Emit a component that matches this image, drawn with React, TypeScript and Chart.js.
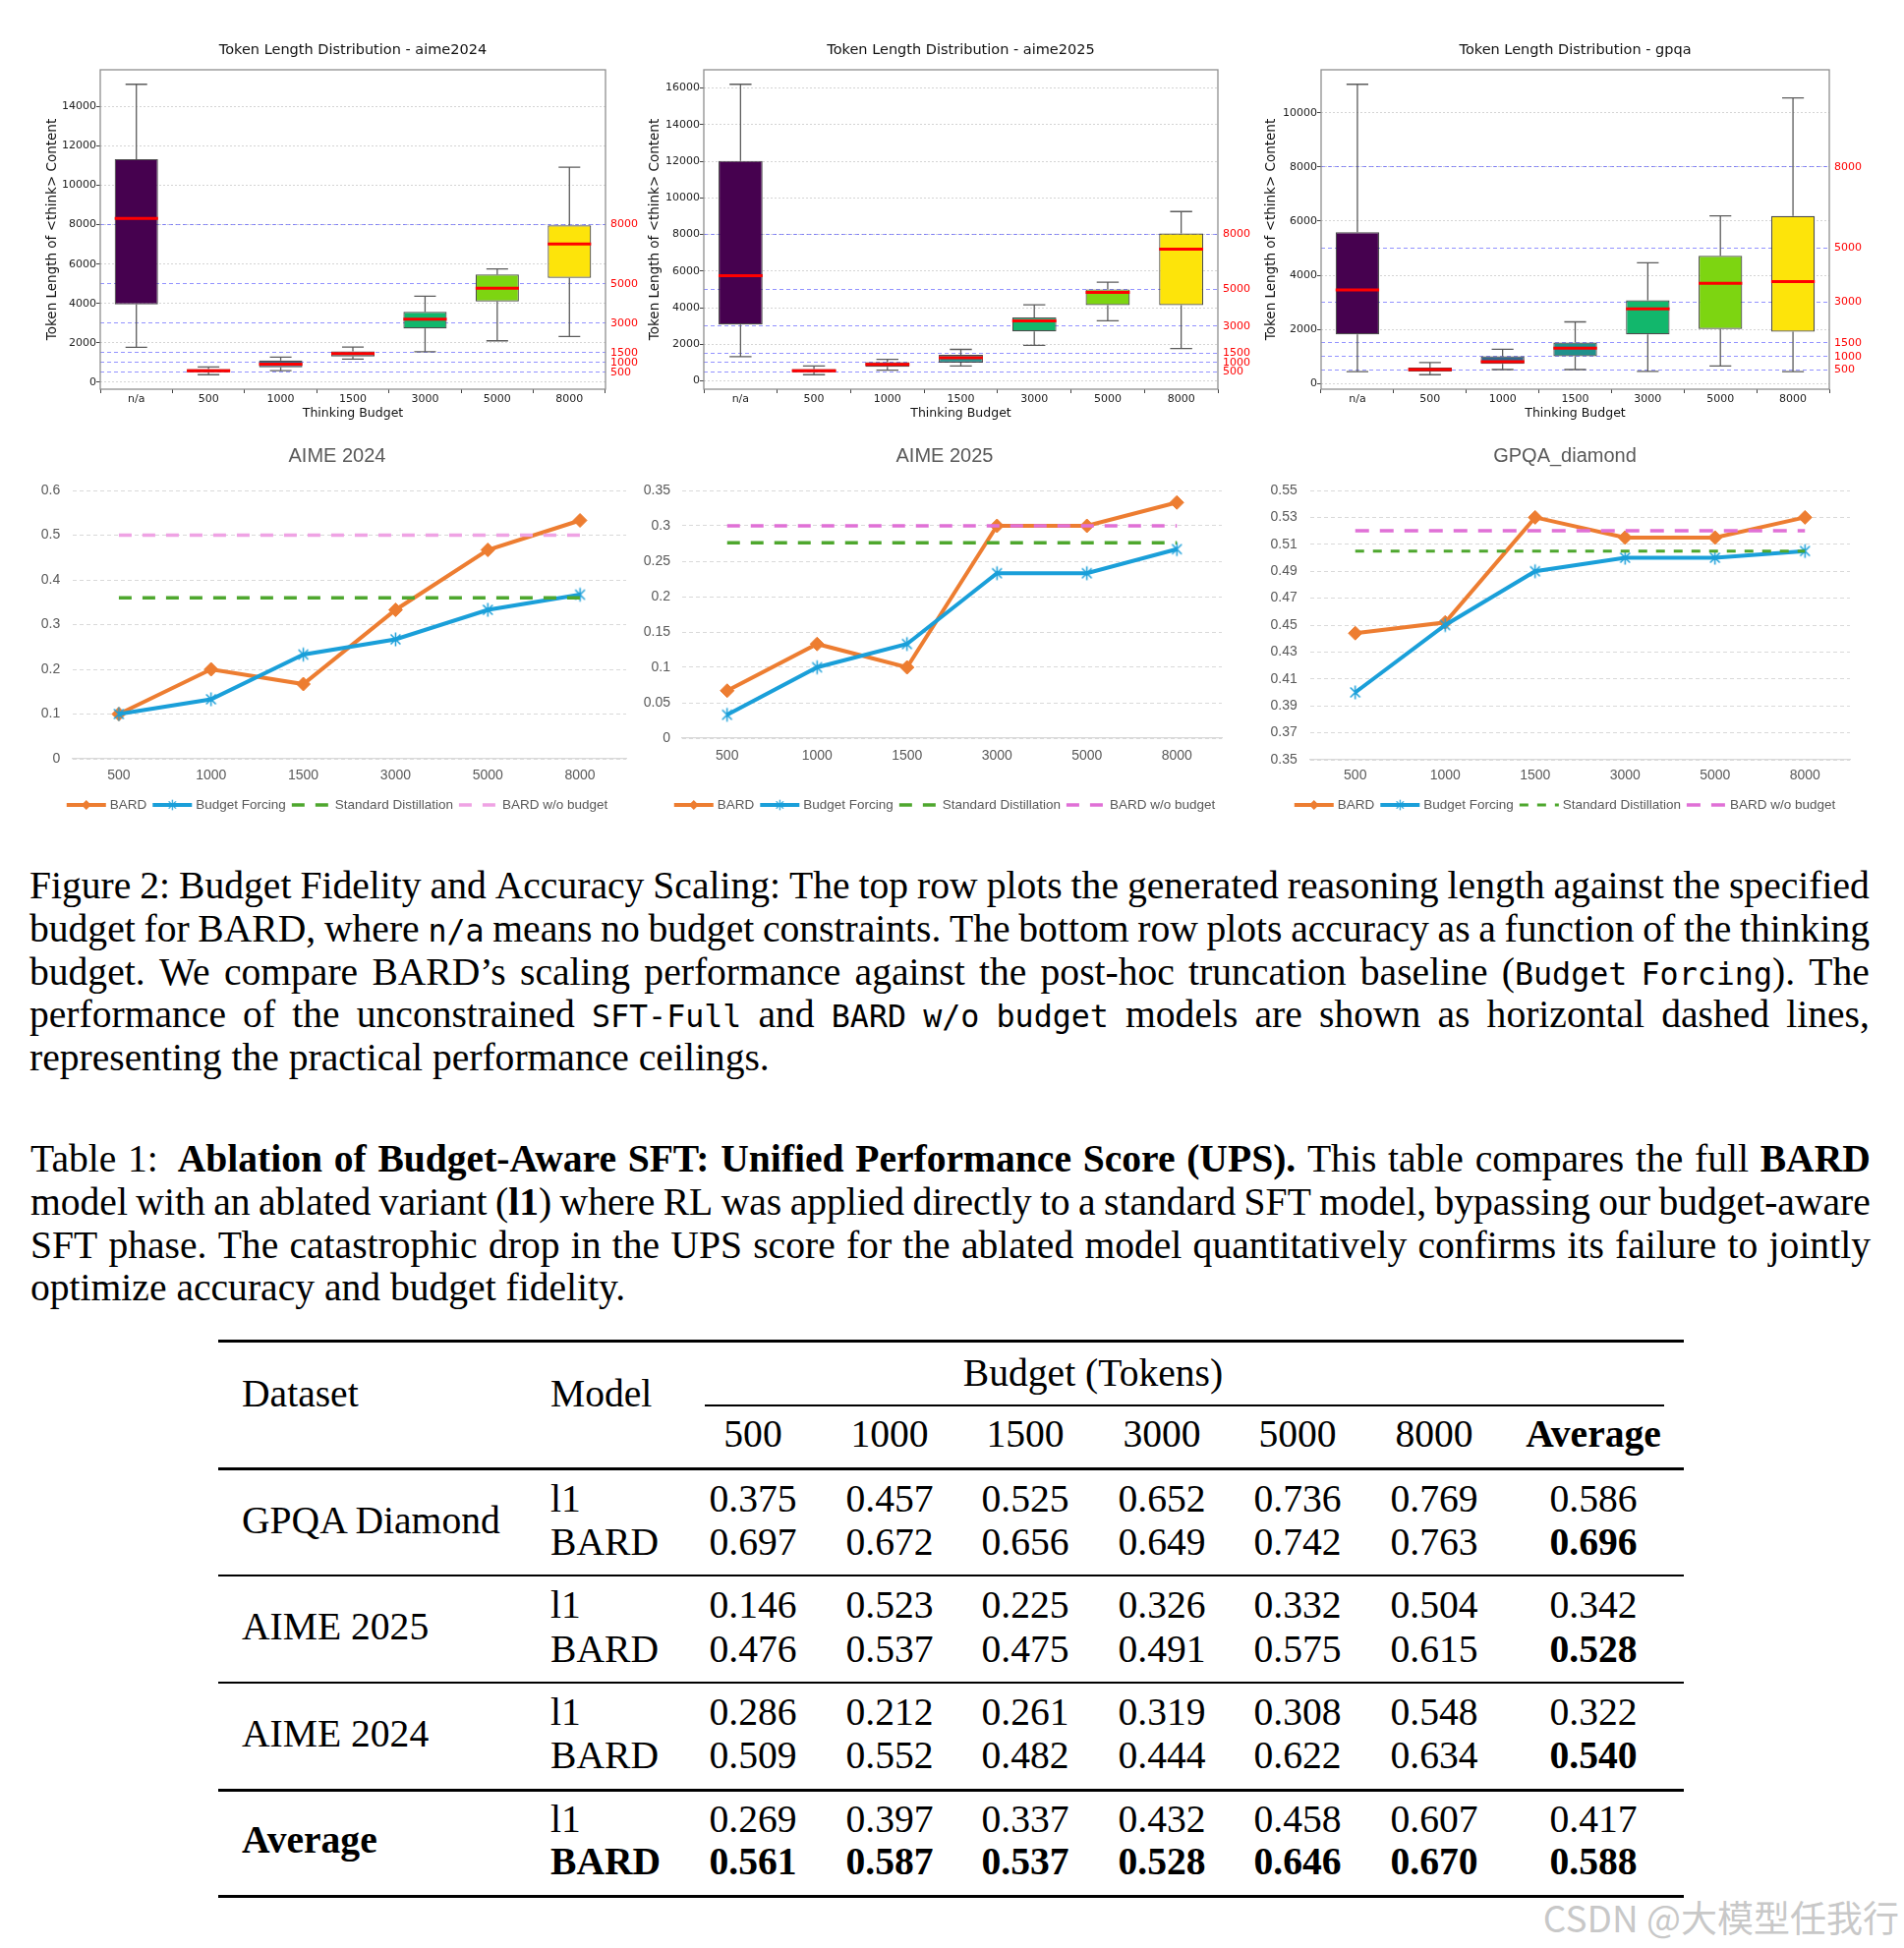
import React, { useEffect, useRef } from 'react';
import { Chart, registerables } from 'chart.js';

Chart.register(...registerables);

// ---------------- DATA: token length box plots ----------------
const BOX_CATEGORIES = ['n/a', '500', '1000', '1500', '3000', '5000', '8000'];
const BUDGET_REFERENCE = [500, 1000, 1500, 3000, 5000, 8000];
const BOX_COLORS = ['#46014f', '#443983', '#31688e', '#21918c', '#12b76c', '#7dd511', '#fde40a'];

const AIME24_WHISKER_LOW = [1770, 380, 580, 1170, 1550, 2100, 2320];
const AIME24_Q1 = [3950, 500, 750, 1300, 2730, 4100, 5300];
const AIME24_MEDIAN = [8320, 580, 920, 1450, 3200, 4770, 7020];
const AIME24_Q3 = [11330, 670, 1100, 1570, 3570, 5470, 7970];
const AIME24_WHISKER_HIGH = [15130, 770, 1270, 1780, 4370, 5750, 10920];
const AIME24_YTICKS = [0, 2000, 4000, 6000, 8000, 10000, 12000, 14000];

const AIME25_WHISKER_LOW = [1330, 340, 590, 820, 1940, 3280, 1770];
const AIME25_Q1 = [3080, 470, 770, 1000, 2700, 4140, 4140];
const AIME25_MEDIAN = [5750, 555, 900, 1270, 3280, 4840, 7200];
const AIME25_Q3 = [12020, 645, 1020, 1420, 3460, 5000, 8050];
const AIME25_WHISKER_HIGH = [16200, 810, 1180, 1720, 4160, 5390, 9250];
const AIME25_YTICKS = [0, 2000, 4000, 6000, 8000, 10000, 12000, 14000, 16000];

const GPQA_WHISKER_LOW = [440, 330, 520, 520, 450, 650, 440];
const GPQA_Q1 = [1820, 450, 730, 1010, 1820, 2020, 1920];
const GPQA_MEDIAN = [3460, 520, 810, 1310, 2760, 3700, 3770];
const GPQA_Q3 = [5590, 590, 1010, 1520, 3080, 4720, 6190];
const GPQA_WHISKER_HIGH = [11050, 780, 1270, 2280, 4460, 6190, 10550];
const GPQA_YTICKS = [0, 2000, 4000, 6000, 8000, 10000];

// ---------------- DATA: accuracy line charts ----------------
const ACC_BUDGETS = ['500', '1000', '1500', '3000', '5000', '8000'];
const SERIES_NAMES = ['BARD', 'Budget Forcing', 'Standard Distillation', 'BARD w/o budget'];

const AIME24_BARD = [0.1, 0.2, 0.167, 0.333, 0.467, 0.533];
const AIME24_BF = [0.1, 0.133, 0.233, 0.267, 0.333, 0.367];
const AIME24_SD = [0.36, 0.36, 0.36, 0.36, 0.36, 0.36];
const AIME24_WO = [0.5, 0.5, 0.5, 0.5, 0.5, 0.5];
const AIME24_ACC_TICKS = [0, 0.1, 0.2, 0.3, 0.4, 0.5, 0.6];

const AIME25_BARD = [0.067, 0.133, 0.1, 0.3, 0.3, 0.333];
const AIME25_BF = [0.033, 0.1, 0.133, 0.233, 0.233, 0.267];
const AIME25_SD = [0.276, 0.276, 0.276, 0.276, 0.276, 0.276];
const AIME25_WO = [0.3, 0.3, 0.3, 0.3, 0.3, 0.3];
const AIME25_ACC_TICKS = [0, 0.05, 0.1, 0.15, 0.2, 0.25, 0.3, 0.35];

const GPQA_BARD = [0.444, 0.452, 0.53, 0.515, 0.515, 0.53];
const GPQA_BF = [0.4, 0.45, 0.49, 0.5, 0.5, 0.505];
const GPQA_SD = [0.505, 0.505, 0.505, 0.505, 0.505, 0.505];
const GPQA_WO = [0.52, 0.52, 0.52, 0.52, 0.52, 0.52];
const GPQA_ACC_TICKS = [0.35, 0.37, 0.39, 0.41, 0.43, 0.45, 0.47, 0.49, 0.51, 0.53, 0.55];

// ---------------- DATA: table ----------------
const TABLE_COL_HEADERS = ['500', '1000', '1500', '3000', '5000', '8000', 'Average'];
const TABLE_GROUPS = ['GPQA Diamond', 'AIME 2025', 'AIME 2024', 'Average'];
const TABLE_MODELS = ['l1', 'BARD'];
const UPS_GPQA_L1 = [0.375, 0.457, 0.525, 0.652, 0.736, 0.769, 0.586];
const UPS_GPQA_BARD = [0.697, 0.672, 0.656, 0.649, 0.742, 0.763, 0.696];
const UPS_AIME25_L1 = [0.146, 0.523, 0.225, 0.326, 0.332, 0.504, 0.342];
const UPS_AIME25_BARD = [0.476, 0.537, 0.475, 0.491, 0.575, 0.615, 0.528];
const UPS_AIME24_L1 = [0.286, 0.212, 0.261, 0.319, 0.308, 0.548, 0.322];
const UPS_AIME24_BARD = [0.509, 0.552, 0.482, 0.444, 0.622, 0.634, 0.54];
const UPS_AVG_L1 = [0.269, 0.397, 0.337, 0.432, 0.458, 0.607, 0.417];
const UPS_AVG_BARD = [0.561, 0.587, 0.537, 0.528, 0.646, 0.67, 0.588];

// ---------------- fonts / colours ----------------
const MPL_FONT = '"DejaVu Sans", sans-serif';
const EXCEL_FONT = '"Liberation Sans", Arial, sans-serif';
const SERIF = '"Liberation Serif", "Times New Roman", serif';
const MONO = '"DejaVu Sans Mono", monospace';
const ORANGE = '#ed7d31';
const BLUE = '#1a9fd9';
const GREEN = '#4ea72e';
const EXCEL_TEXT = '#595959';

// ---------------- plugins ----------------
const titlePlugin = {
  id: 'customTitle',
  afterDraw(chart: any, _args: any, opts: any) {
    if (!opts || !opts.text) return;
    const { ctx, chartArea } = chart;
    ctx.save();
    ctx.font = `normal ${opts.size}px ${opts.family}`;
    ctx.fillStyle = opts.color;
    ctx.textAlign = 'center';
    ctx.textBaseline = 'middle';
    const x = opts.center === 'area' ? (chartArea.left + chartArea.right) / 2 : chart.width / 2;
    ctx.fillText(opts.text, x, chartArea.top - opts.offset);
    ctx.restore();
  },
};

const framePlugin = {
  id: 'frame',
  afterDraw(chart: any) {
    const { ctx, chartArea } = chart;
    ctx.save();
    ctx.strokeStyle = '#8f8f8f';
    ctx.lineWidth = 1.3;
    ctx.strokeRect(chartArea.left, chartArea.top, chartArea.right - chartArea.left, chartArea.bottom - chartArea.top);
    ctx.restore();
  },
};

function makeStar(color: string, r: number, lw: number) {
  const size = Math.ceil(2 * r + 2 * lw);
  const c = document.createElement('canvas');
  c.width = size;
  c.height = size;
  const g = c.getContext('2d')!;
  g.strokeStyle = color;
  g.lineWidth = lw;
  const cx = size / 2;
  const cy = size / 2;
  const d = r * Math.SQRT1_2;
  g.beginPath();
  g.moveTo(cx - d, cy - d);
  g.lineTo(cx + d, cy + d);
  g.moveTo(cx + d, cy - d);
  g.lineTo(cx - d, cy + d);
  g.moveTo(cx, cy - r);
  g.lineTo(cx, cy + r);
  g.stroke();
  return c;
}

const lineLegendPlugin = {
  id: 'lineLegend',
  afterDraw(chart: any, _args: any, opts: any) {
    const ctx = chart.ctx;
    ctx.save();
    ctx.font = `normal ${opts.size}px ${opts.family}`;
    const sample = 40;
    const gapText = 4;
    const gapItem = 6;
    const items = chart.data.datasets.map((ds: any) => ({ ds, w: ctx.measureText(ds.label).width }));
    const total = items.reduce((s: number, it: any) => s + sample + gapText + it.w + gapItem, 0) - gapItem;
    let x = chart.width / 2 - total / 2;
    const y = opts.y;
    for (const it of items) {
      const ds = it.ds;
      ctx.save();
      ctx.strokeStyle = ds.borderColor;
      ctx.lineWidth = ds.borderWidth;
      ctx.setLineDash(ds.borderDash || []);
      ctx.beginPath();
      ctx.moveTo(x, y);
      ctx.lineTo(x + sample, y);
      ctx.stroke();
      ctx.restore();
      const mx = x + sample / 2;
      if (ds.pointStyle === 'rectRot') {
        const r = 5;
        ctx.fillStyle = ds.borderColor;
        ctx.beginPath();
        ctx.moveTo(mx - r, y);
        ctx.lineTo(mx, y - r);
        ctx.lineTo(mx + r, y);
        ctx.lineTo(mx, y + r);
        ctx.closePath();
        ctx.fill();
      } else if (ds.pointStyle && typeof ds.pointStyle !== 'string') {
        const img = ds.pointStyle;
        const s = img.width * 0.75;
        ctx.drawImage(img, mx - s / 2, y - s / 2, s, s);
      }
      ctx.fillStyle = EXCEL_TEXT;
      ctx.textAlign = 'left';
      ctx.textBaseline = 'middle';
      ctx.fillText(ds.label, x + sample + gapText, y);
      x += sample + gapText + it.w + gapItem;
    }
    ctx.restore();
  },
};

// ---------------- box chart ----------------
type BoxProps = {
  title: string;
  low: number[];
  q1: number[];
  median: number[];
  q3: number[];
  high: number[];
  yTicks: number[];
  left: number;
  top: number;
  width: number;
  height: number;
  yW: number;
  y2W: number;
  xH: number;
  padTop: number;
};

function BoxChart(p: BoxProps) {
  const ref = useRef<HTMLCanvasElement>(null);
  useEffect(() => {
    const all = [...p.low, ...p.high];
    const lo = Math.min(...all);
    const hi = Math.max(...all);
    const margin = (hi - lo) * 0.05;
    const yMin = lo - margin;
    const yMax = hi + margin;
    const boxPlugin = {
      id: 'boxWhiskers',
      beforeDatasetsDraw(chart: any) {
        const meta = chart.getDatasetMeta(0);
        const ys = chart.scales.y;
        const ctx = chart.ctx;
        ctx.save();
        ctx.strokeStyle = '#5c5c5c';
        ctx.lineWidth = 1.3;
        meta.data.forEach((bar: any, i: number) => {
          const { x, width } = bar.getProps(['x', 'width'], true);
          const yl = ys.getPixelForValue(p.low[i]);
          const yq1 = ys.getPixelForValue(p.q1[i]);
          const yq3 = ys.getPixelForValue(p.q3[i]);
          const yh = ys.getPixelForValue(p.high[i]);
          const cw = width / 4;
          ctx.beginPath();
          ctx.moveTo(x, yl);
          ctx.lineTo(x, yq1);
          ctx.moveTo(x, yq3);
          ctx.lineTo(x, yh);
          ctx.moveTo(x - cw, yl);
          ctx.lineTo(x + cw, yl);
          ctx.moveTo(x - cw, yh);
          ctx.lineTo(x + cw, yh);
          ctx.stroke();
        });
        ctx.restore();
      },
      afterDatasetsDraw(chart: any) {
        const meta = chart.getDatasetMeta(0);
        const ys = chart.scales.y;
        const ctx = chart.ctx;
        ctx.save();
        ctx.strokeStyle = '#ff0000';
        ctx.lineWidth = 3;
        meta.data.forEach((bar: any, i: number) => {
          const { x, width } = bar.getProps(['x', 'width'], true);
          const ym = ys.getPixelForValue(p.median[i]);
          ctx.beginPath();
          ctx.moveTo(x - width / 2, ym);
          ctx.lineTo(x + width / 2, ym);
          ctx.stroke();
        });
        ctx.restore();
      },
    };
    const chart = new Chart(ref.current!, {
      type: 'bar',
      data: {
        labels: BOX_CATEGORIES,
        datasets: [
          {
            data: p.q1.map((v, i) => [v, p.q3[i]]) as any,
            backgroundColor: BOX_COLORS,
            borderColor: 'rgba(45,45,45,0.85)',
            borderWidth: 1.2,
            borderSkipped: false,
            barPercentage: 0.6,
            categoryPercentage: 1,
          },
        ],
      },
      options: {
        animation: false,
        responsive: false,
        maintainAspectRatio: false,
        events: [],
        layout: { padding: { top: p.padTop, left: 0, right: 0, bottom: 0 } },
        plugins: {
          legend: { display: false },
          tooltip: { enabled: false },
          customTitle: { text: p.title, size: 14.5, family: MPL_FONT, color: '#111', center: 'area', offset: 20 },
        } as any,
        scales: {
          x: {
            type: 'category',
            offset: true,
            grid: { display: true, drawOnChartArea: false, drawTicks: true, tickLength: 4, tickColor: '#444', color: '#444' },
            border: { display: false },
            ticks: { color: '#222', font: { family: MPL_FONT, size: 11 }, padding: 0, maxRotation: 0, autoSkip: false },
            title: { display: true, text: 'Thinking Budget', color: '#111', font: { family: MPL_FONT, size: 12.5 }, padding: { top: 0, bottom: 4 } },
            afterFit: (s: any) => {
              s.height = p.xH;
            },
          },
          y: {
            type: 'linear',
            position: 'left',
            min: yMin,
            max: yMax,
            grid: { display: true, drawOnChartArea: true, drawTicks: true, tickLength: 4, tickColor: '#444', color: 'rgba(160,160,160,0.45)', lineWidth: 1 },
            border: { display: false, dash: [2, 2] },
            ticks: { color: '#222', font: { family: MPL_FONT, size: 11 }, padding: 0, autoSkip: false, callback: (v: any) => String(v) },
            title: { display: true, text: 'Token Length of <think> Content', color: '#111', font: { family: MPL_FONT, size: 13.5 }, padding: { top: 3, bottom: 4 } },
            afterBuildTicks: (s: any) => {
              s.ticks = p.yTicks.map((v) => ({ value: v }));
            },
            afterFit: (s: any) => {
              s.width = p.yW;
            },
          },
          y2: {
            type: 'linear',
            position: 'right',
            min: yMin,
            max: yMax,
            grid: { display: true, drawOnChartArea: true, drawTicks: false, color: 'rgba(40,40,255,0.5)', lineWidth: 1 },
            border: { display: false, dash: [4, 3] },
            ticks: { color: '#ff0000', font: { family: MPL_FONT, size: 11 }, padding: 5, autoSkip: false, callback: (v: any) => String(v) },
            afterBuildTicks: (s: any) => {
              s.ticks = BUDGET_REFERENCE.map((v) => ({ value: v }));
            },
            afterFit: (s: any) => {
              s.width = p.y2W;
            },
          },
        } as any,
      },
      plugins: [boxPlugin, titlePlugin, framePlugin],
    });
    return () => chart.destroy();
  }, []);
  return (
    <canvas
      ref={ref}
      width={p.width}
      height={p.height}
      style={{ position: 'absolute', left: p.left, top: p.top, width: p.width, height: p.height }}
    />
  );
}

// ---------------- accuracy chart ----------------
type AccProps = {
  title: string;
  bard: number[];
  bf: number[];
  sd: number[];
  wo: number[];
  yTicks: number[];
  pink: string;
  sdDash: number[];
  sdWidth: number;
  woDash: number[];
  left: number;
  top: number;
  width: number;
  height: number;
  yW: number;
  padRight: number;
  padTop: number;
  xH: number;
  xPad: number;
  yPad: number;
};

function AccChart(p: AccProps) {
  const ref = useRef<HTMLCanvasElement>(null);
  useEffect(() => {
    const star = makeStar(BLUE, 7, 1.5);
    const chart = new Chart(ref.current!, {
      type: 'line',
      data: {
        labels: ACC_BUDGETS,
        datasets: [
          {
            label: SERIES_NAMES[0],
            data: p.bard,
            borderColor: ORANGE,
            backgroundColor: ORANGE,
            borderWidth: 4,
            pointStyle: 'rectRot',
            pointRadius: 7,
            pointBackgroundColor: ORANGE,
            pointBorderColor: ORANGE,
            pointBorderWidth: 1,
            order: 3,
          },
          {
            label: SERIES_NAMES[1],
            data: p.bf,
            borderColor: BLUE,
            backgroundColor: BLUE,
            borderWidth: 4,
            pointStyle: star as any,
            pointRadius: 7,
            order: 2,
          },
          {
            label: SERIES_NAMES[2],
            data: p.sd,
            borderColor: GREEN,
            backgroundColor: GREEN,
            borderWidth: p.sdWidth,
            borderDash: p.sdDash,
            pointRadius: 0,
            order: 1,
          },
          {
            label: SERIES_NAMES[3],
            data: p.wo,
            borderColor: p.pink,
            backgroundColor: p.pink,
            borderWidth: 3.5,
            borderDash: p.woDash,
            pointRadius: 0,
            order: 0,
          },
        ],
      },
      options: {
        animation: false,
        responsive: false,
        maintainAspectRatio: false,
        events: [],
        layout: { padding: { top: p.padTop, right: p.padRight, left: 0, bottom: 0 } },
        plugins: {
          legend: { display: false },
          tooltip: { enabled: false },
          customTitle: { text: p.title, size: 20, family: EXCEL_FONT, color: EXCEL_TEXT, center: 'canvas', offset: 35 },
          lineLegend: { y: 379, size: 13.5, family: EXCEL_FONT },
        } as any,
        scales: {
          x: {
            type: 'category',
            offset: true,
            grid: { display: false, drawTicks: false },
            border: { display: true, color: '#d9d9d9', width: 1.3 },
            ticks: { color: EXCEL_TEXT, font: { family: EXCEL_FONT, size: 14 }, padding: p.xPad, maxRotation: 0, autoSkip: false },
            afterFit: (s: any) => {
              s.height = p.xH;
            },
          },
          y: {
            type: 'linear',
            min: p.yTicks[0],
            max: p.yTicks[p.yTicks.length - 1],
            grid: { display: true, drawTicks: false, color: '#d9d9d9', lineWidth: 1 },
            border: { display: false, dash: [4, 3] },
            ticks: {
              color: EXCEL_TEXT,
              font: { family: EXCEL_FONT, size: 14 },
              padding: p.yPad,
              autoSkip: false,
              callback: (v: any) => String(Number(Number(v).toFixed(2))),
            },
            afterBuildTicks: (s: any) => {
              s.ticks = p.yTicks.map((v) => ({ value: v }));
            },
            afterFit: (s: any) => {
              s.width = p.yW;
            },
          },
        } as any,
      },
      plugins: [titlePlugin, lineLegendPlugin],
    });
    return () => chart.destroy();
  }, []);
  return (
    <canvas
      ref={ref}
      width={p.width}
      height={p.height}
      style={{ position: 'absolute', left: p.left, top: p.top, width: p.width, height: p.height }}
    />
  );
}

// ---------------- captions ----------------
type Part = { t: string; m?: boolean; b?: boolean };

const FIGURE_CAPTION: Part[][] = [
  [{ t: 'Figure 2: Budget Fidelity and Accuracy Scaling: The top row plots the generated reasoning length against the specified' }],
  [{ t: 'budget for BARD, where ' }, { t: 'n/a', m: true }, { t: ' means no budget constraints. The bottom row plots accuracy as a function of the thinking' }],
  [{ t: 'budget. We compare BARD\u2019s scaling performance against the post-hoc truncation baseline (' }, { t: 'Budget Forcing', m: true }, { t: '). The' }],
  [{ t: 'performance of the unconstrained ' }, { t: 'SFT-Full', m: true }, { t: ' and ' }, { t: 'BARD w/o budget', m: true }, { t: ' models are shown as horizontal dashed lines,' }],
  [{ t: 'representing the practical performance ceilings.' }],
];

const TABLE_CAPTION: Part[][] = [
  [{ t: 'Table 1:\u2002' }, { t: 'Ablation of Budget-Aware SFT: Unified Performance Score (UPS).', b: true }, { t: ' This table compares the full ' }, { t: 'BARD', b: true }],
  [{ t: 'model with an ablated variant (' }, { t: 'l1', b: true }, { t: ') where RL was applied directly to a standard SFT model, bypassing our budget-aware' }],
  [{ t: 'SFT phase. The catastrophic drop in the UPS score for the ablated model quantitatively confirms its failure to jointly' }],
  [{ t: 'optimize accuracy and budget fidelity.' }],
];

function toWords(parts: Part[]): Part[][] {
  const words: Part[][] = [[]];
  parts.forEach((pt) => {
    const pieces = pt.t.split(' ');
    pieces.forEach((piece, k) => {
      if (k > 0) words.push([]);
      if (piece) words[words.length - 1].push({ ...pt, t: piece });
    });
  });
  return words.filter((w) => w.length > 0);
}

function Caption({ lines, left, top, width, lh, size }: { lines: Part[][]; left: number; top: number; width: number; lh: number; size: number }) {
  return (
    <>
      {lines.map((parts, i) => {
        const last = i === lines.length - 1;
        const words = toWords(parts);
        return (
          <div
            key={i}
            style={{
              position: 'absolute',
              left,
              top: top + i * lh,
              width,
              height: lh,
              lineHeight: lh + 'px',
              fontFamily: SERIF,
              fontSize: size,
              color: '#000',
              display: 'flex',
              justifyContent: last ? 'flex-start' : 'space-between',
              columnGap: last ? '0.25em' : 0,
              whiteSpace: 'nowrap',
            }}
          >
            {words.map((w, wi) => (
              <span key={wi}>
                {w.map((pt, j) => (
                  <span
                    key={j}
                    style={{
                      fontFamily: pt.m ? MONO : undefined,
                      fontSize: pt.m ? '0.8em' : undefined,
                      fontWeight: pt.b ? 'bold' : undefined,
                    }}
                  >
                    {pt.t}
                  </span>
                ))}
              </span>
            ))}
          </div>
        );
      })}
    </>
  );
}

// ---------------- table ----------------
const TBL_FONT = 39.6;
const TBL_LH = 44;
const COL_X = [766, 905, 1043, 1182, 1320, 1459, 1621];
const ROW_Y = [
  [1525, 1569],
  [1633, 1678],
  [1742, 1786],
  [1851, 1894],
];
const GROUP_Y = [1547, 1655, 1764, 1872];
const TABLE_VALUES = [
  [UPS_GPQA_L1, UPS_GPQA_BARD],
  [UPS_AIME25_L1, UPS_AIME25_BARD],
  [UPS_AIME24_L1, UPS_AIME24_BARD],
  [UPS_AVG_L1, UPS_AVG_BARD],
];

function Cell({ text, x, y, bold, align }: { text: string; x: number; y: number; bold?: boolean; align?: 'left' | 'center' }) {
  const style: any = {
    position: 'absolute',
    top: y - TBL_LH / 2,
    height: TBL_LH,
    lineHeight: TBL_LH + 'px',
    fontFamily: SERIF,
    fontSize: TBL_FONT,
    fontWeight: bold ? 'bold' : 'normal',
    whiteSpace: 'nowrap',
    color: '#000',
  };
  if (align === 'left') {
    style.left = x;
  } else {
    style.left = x - 150;
    style.width = 300;
    style.textAlign = 'center';
  }
  return <div style={style}>{text}</div>;
}

function Rule({ y, x1, x2, h }: { y: number; x1: number; x2: number; h: number }) {
  return <div style={{ position: 'absolute', left: x1, width: x2 - x1, top: y - h / 2, height: h, background: '#000' }} />;
}

function UpsTable() {
  const cells: any[] = [];
  cells.push(<Cell key="hd" text="Dataset" x={246} y={1418} align="left" />);
  cells.push(<Cell key="hm" text="Model" x={560} y={1418} align="left" />);
  cells.push(<Cell key="hb" text="Budget (Tokens)" x={1112} y={1397} />);
  TABLE_COL_HEADERS.forEach((h, i) => {
    cells.push(<Cell key={'h' + i} text={h} x={COL_X[i]} y={1459} bold={i === TABLE_COL_HEADERS.length - 1} />);
  });
  TABLE_GROUPS.forEach((g, gi) => {
    const lastGroup = gi === TABLE_GROUPS.length - 1;
    cells.push(<Cell key={'g' + gi} text={g} x={246} y={GROUP_Y[gi]} align="left" bold={lastGroup} />);
    TABLE_MODELS.forEach((m, mi) => {
      const isBard = mi === 1;
      cells.push(<Cell key={'m' + gi + mi} text={m} x={560} y={ROW_Y[gi][mi]} align="left" bold={lastGroup && isBard} />);
      TABLE_VALUES[gi][mi].forEach((v, ci) => {
        const bold = isBard && (lastGroup || ci === COL_X.length - 1);
        cells.push(<Cell key={'v' + gi + mi + ci} text={v.toFixed(3)} x={COL_X[ci]} y={ROW_Y[gi][mi]} bold={bold} />);
      });
    });
  });
  return (
    <>
      <Rule y={1364} x1={222} x2={1713} h={3} />
      <Rule y={1430} x1={717} x2={1693} h={1.5} />
      <Rule y={1494} x1={222} x2={1713} h={3} />
      <Rule y={1603} x1={222} x2={1713} h={2} />
      <Rule y={1712} x1={222} x2={1713} h={2} />
      <Rule y={1821} x1={222} x2={1713} h={3} />
      <Rule y={1929} x1={222} x2={1713} h={3} />
      {cells}
    </>
  );
}

// ---------------- app ----------------
export default function App() {
  return (
    <div style={{ position: 'absolute', left: 0, top: 0, width: 1937, height: 1982, background: '#fff', overflow: 'hidden' }}>
      <BoxChart
        title="Token Length Distribution - aime2024"
        low={AIME24_WHISKER_LOW}
        q1={AIME24_Q1}
        median={AIME24_MEDIAN}
        q3={AIME24_Q3}
        high={AIME24_WHISKER_HIGH}
        yTicks={AIME24_YTICKS}
        left={42}
        top={30}
        width={612}
        height={402}
        yW={60}
        y2W={38}
        xH={36}
        padTop={41}
      />
      <BoxChart
        title="Token Length Distribution - aime2025"
        low={AIME25_WHISKER_LOW}
        q1={AIME25_Q1}
        median={AIME25_MEDIAN}
        q3={AIME25_Q3}
        high={AIME25_WHISKER_HIGH}
        yTicks={AIME25_YTICKS}
        left={655}
        top={30}
        width={625}
        height={402}
        yW={61}
        y2W={41}
        xH={36}
        padTop={41}
      />
      <BoxChart
        title="Token Length Distribution - gpqa"
        low={GPQA_WHISKER_LOW}
        q1={GPQA_Q1}
        median={GPQA_MEDIAN}
        q3={GPQA_Q3}
        high={GPQA_WHISKER_HIGH}
        yTicks={GPQA_YTICKS}
        left={1282}
        top={30}
        width={620}
        height={402}
        yW={62}
        y2W={41}
        xH={36}
        padTop={41}
      />
      <AccChart
        title="AIME 2024"
        bard={AIME24_BARD}
        bf={AIME24_BF}
        sd={AIME24_SD}
        wo={AIME24_WO}
        yTicks={AIME24_ACC_TICKS}
        pink="#efa3e4"
        sdDash={[13, 11]}
        sdWidth={3.5}
        woDash={[13, 11]}
        left={30}
        top={440}
        width={626}
        height={400}
        yW={44}
        padRight={19}
        padTop={59}
        xH={68}
        xPad={8.6}
        yPad={12.7}
      />
      <AccChart
        title="AIME 2025"
        bard={AIME25_BARD}
        bf={AIME25_BF}
        sd={AIME25_SD}
        wo={AIME25_WO}
        yTicks={AIME25_ACC_TICKS}
        pink="#e070d6"
        sdDash={[13, 11]}
        sdWidth={3.5}
        woDash={[13, 11]}
        left={640}
        top={440}
        width={642}
        height={400}
        yW={54}
        padRight={39}
        padTop={59}
        xH={89}
        xPad={9.3}
        yPad={12}
      />
      <AccChart
        title="GPQA_diamond"
        bard={GPQA_BARD}
        bf={GPQA_BF}
        sd={GPQA_SD}
        wo={GPQA_WO}
        yTicks={GPQA_ACC_TICKS}
        pink="#e070d6"
        sdDash={[9, 9]}
        sdWidth={3}
        woDash={[14, 11]}
        left={1280}
        top={440}
        width={624}
        height={400}
        yW={53}
        padRight={22}
        padTop={59}
        xH={67}
        xPad={8.2}
        yPad={13.2}
      />
      <Caption lines={FIGURE_CAPTION} left={30} top={880} width={1872} lh={43.8} size={39.6} />
      <Caption lines={TABLE_CAPTION} left={31} top={1158} width={1872} lh={43.8} size={39.6} />
      <UpsTable />
      <div
        style={{
          position: 'absolute',
          right: 5,
          top: 1950 - 24,
          height: 48,
          lineHeight: '48px',
          fontFamily: '"Noto Sans CJK SC", sans-serif',
          fontSize: 37,
          color: 'rgba(175,175,175,0.7)',
          whiteSpace: 'nowrap',
        }}
      >
        CSDN @大模型任我行
      </div>
    </div>
  );
}
